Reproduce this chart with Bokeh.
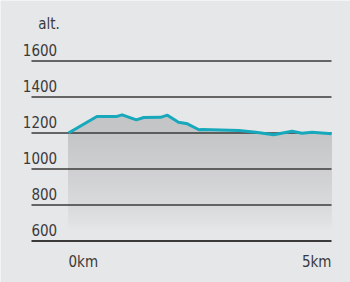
from bokeh.plotting import figure
from bokeh.models import ColumnDataSource, LabelSet, Label, Range1d
from bokeh.core.properties import value
from bokeh.embed import file_html
from bokeh.resources import INLINE

# ---- data ----
distance_km = [0, 0.54, 0.92, 1.02, 1.29, 1.43, 1.75, 1.88, 2.09, 2.26, 2.48, 2.54,
               3.24, 3.56, 3.90, 4.25, 4.44, 4.63, 5.0]
altitude_m = [1200, 1292, 1292, 1301, 1273, 1286, 1287, 1299, 1260, 1251, 1218, 1219,
              1214, 1204, 1190, 1210, 1199, 1204, 1196]
y_ticks = [600, 800, 1000, 1200, 1400, 1600]
y_tick_labels = ["600", "800", "1000", "1200", "1400", "1600"]
x_ticks = [0, 5]
x_tick_labels = ["0km", "5km"]
y_title = "alt."

# ---- style ----
BG = "#e6e7e9"
LINE = "#17a9bb"
GRID = "#3a3a3a"
TXT = "#3a3a3a"
FONT = "DejaVu Sans Condensed"
FS = "15px"
RULE_LEFT = -0.7034    # rules start a little left of 0 km
LABEL_RIGHT = -0.215   # right edge of the altitude labels

p = figure(width=350, height=282, output_backend="svg", toolbar_location=None,
           x_range=Range1d(-1.2928, 5.3612), y_range=Range1d(369.4, 1936.1),
           x_axis_location=None, y_axis_location=None,
           min_border_left=0, min_border_right=0, min_border_top=0, min_border_bottom=0)
p.background_fill_color = BG
p.border_fill_color = BG
p.outline_line_color = None
p.xgrid.visible = False
p.ygrid.visible = False

# gradient fill under the profile
n = 36
top_c = (0xc4, 0xc5, 0xc7)
bot_c = (0xe4, 0xe5, 0xe7)
lo, hi = 665.0, 1200.0
for i in range(n):
    t = i / (n - 1)
    lvl = lo + (hi - lo) * t
    s = t ** 0.75
    c = tuple(round(b + (a - b) * s) for a, b in zip(top_c, bot_c))
    p.varea(x=distance_km, y1=lvl, y2=altitude_m, fill_color="#%02x%02x%02x" % c,
            level="image")

# horizontal rules
rules = ColumnDataSource(dict(x0=[RULE_LEFT] * len(y_ticks), x1=[x_ticks[-1]] * len(y_ticks),
                              y=y_ticks, w=[2.0] + [1.3] * (len(y_ticks) - 1)))
p.segment(x0="x0", y0="y", x1="x1", y1="y", source=rules, line_color=GRID,
          line_width="w", level="underlay")

p.line(distance_km, altitude_m, line_color=LINE, line_width=3, line_join="round")

# y labels (above each rule, right-aligned)
ysrc = ColumnDataSource(dict(x=[LABEL_RIGHT] * len(y_ticks),
                             y=[v + 27 for v in y_ticks], text=y_tick_labels))
p.add_layout(LabelSet(x="x", y="y", text="text", source=ysrc, text_align="right",
                      text_baseline="alphabetic", text_font=value(FONT),
                      text_font_size=value(FS), text_color=TXT))

# x labels
xsrc = ColumnDataSource(dict(x=x_ticks, y=[452.8] * len(x_ticks), text=x_tick_labels,
                             align=["left", "right"]))
p.add_layout(LabelSet(x="x", y="y", text="text", source=xsrc, text_align="align",
                      text_baseline="alphabetic", text_font=value(FONT),
                      text_font_size=value(FS), text_color=TXT))

p.add_layout(Label(x=-0.576, y=1802.8, text=y_title, text_align="left",
                   text_baseline="alphabetic", text_font=FONT,
                   text_font_size=FS, text_color=TXT))

open("out.html", "w").write(file_html(p, INLINE))
